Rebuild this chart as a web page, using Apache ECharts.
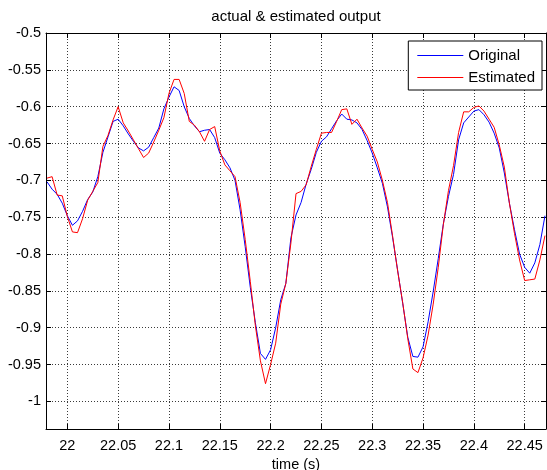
<!DOCTYPE html>
<html>
<head>
<meta charset="utf-8">
<script src="https://cdn.jsdelivr.net/npm/echarts@6/dist/echarts.min.js"></script>
<style>
html,body{margin:0;padding:0;background:#fff;}
#chart{width:547px;height:470px;}
</style>
</head>
<body>
<div id="chart"></div>
<script>
var titleText = 'actual & estimated output';
var xName = 'time (s)';
var seriesNames = ['Original', 'Estimated'];

var time = [
  21.98, 21.985, 21.99, 21.995, 22.0, 22.005, 22.01, 22.015, 22.02, 22.025,
  22.03, 22.035, 22.04, 22.045, 22.05, 22.055, 22.06, 22.065, 22.07, 22.075,
  22.08, 22.085, 22.09, 22.095, 22.1, 22.105, 22.11, 22.115, 22.12, 22.125,
  22.13, 22.135, 22.14, 22.145, 22.15, 22.155, 22.16, 22.165, 22.17, 22.175,
  22.18, 22.185, 22.19, 22.195, 22.2, 22.205, 22.21, 22.215, 22.22, 22.225,
  22.23, 22.235, 22.24, 22.245, 22.25, 22.255, 22.26, 22.265, 22.27, 22.275,
  22.28, 22.285, 22.29, 22.295, 22.3, 22.305, 22.31, 22.315, 22.32, 22.325,
  22.33, 22.335, 22.34, 22.345, 22.35, 22.355, 22.36, 22.365, 22.37, 22.375,
  22.38, 22.385, 22.39, 22.395, 22.4, 22.405, 22.41, 22.415, 22.42, 22.425,
  22.43, 22.435, 22.44, 22.445, 22.45, 22.455, 22.46, 22.465, 22.47
];

var original = [
  -0.702, -0.712, -0.719, -0.731, -0.748, -0.761, -0.755, -0.742, -0.726, -0.716,
  -0.695, -0.662, -0.641, -0.620, -0.617, -0.626, -0.637, -0.647, -0.656, -0.660,
  -0.655, -0.642, -0.629, -0.603, -0.587, -0.573, -0.578, -0.600, -0.616, -0.626,
  -0.634, -0.632, -0.631, -0.642, -0.663, -0.672, -0.683, -0.700, -0.740, -0.790,
  -0.845, -0.893, -0.935, -0.943, -0.930, -0.900, -0.862, -0.840, -0.778, -0.747,
  -0.730, -0.705, -0.685, -0.662, -0.647, -0.641, -0.630, -0.619, -0.610, -0.617,
  -0.618, -0.622, -0.631, -0.646, -0.663, -0.683, -0.704, -0.736, -0.777, -0.822,
  -0.867, -0.913, -0.939, -0.940, -0.926, -0.892, -0.851, -0.806, -0.759, -0.722,
  -0.692, -0.645, -0.622, -0.614, -0.606, -0.604, -0.611, -0.621, -0.636, -0.656,
  -0.690, -0.731, -0.767, -0.800, -0.818, -0.826, -0.812, -0.787, -0.748
];

var estimated = [
  -0.697, -0.695, -0.720, -0.721, -0.749, -0.770, -0.771, -0.752, -0.727, -0.715,
  -0.703, -0.654, -0.639, -0.618, -0.600, -0.622, -0.633, -0.645, -0.657, -0.669,
  -0.663, -0.648, -0.632, -0.615, -0.582, -0.563, -0.563, -0.582, -0.620, -0.625,
  -0.634, -0.647, -0.631, -0.627, -0.660, -0.679, -0.687, -0.695, -0.730, -0.780,
  -0.837, -0.897, -0.945, -0.976, -0.950, -0.921, -0.868, -0.840, -0.785, -0.718,
  -0.715, -0.706, -0.681, -0.658, -0.636, -0.635, -0.635, -0.620, -0.604, -0.603,
  -0.624, -0.617, -0.629, -0.640, -0.658, -0.675, -0.700, -0.730, -0.775, -0.823,
  -0.866, -0.915, -0.956, -0.961, -0.941, -0.910, -0.868, -0.818, -0.760, -0.714,
  -0.680, -0.635, -0.607, -0.607, -0.601, -0.599, -0.606, -0.617, -0.628, -0.652,
  -0.682, -0.731, -0.772, -0.808, -0.836, -0.835, -0.834, -0.808, -0.775
];

var xRange = [21.979, 22.471];
var yRange = [-1.0375, -0.5];
var tickStep = 0.05;

function pairs(xs, ys) {
  var out = [];
  for (var i = 0; i < xs.length; i++) out.push([xs[i], ys[i]]);
  return out;
}

var FONT = 'Liberation Sans, Arial, Helvetica, sans-serif';
var gridLine = { show: true, lineStyle: { color: '#3a3a3a', width: 1, type: [1, 2] } };

var chart = echarts.init(document.getElementById('chart'), null, { renderer: 'canvas' });
chart.setOption({
  animation: false,
  backgroundColor: '#ffffff',
  textStyle: { fontFamily: FONT },
  title: {
    text: titleText,
    left: 296,
    textAlign: 'center',
    top: 9,
    padding: 0,
    textStyle: { fontSize: 15, fontWeight: 'normal', color: '#000', fontFamily: FONT }
  },
  legend: {
    data: seriesNames,
    orient: 'vertical',
    right: 5,
    top: 41,
    padding: [7, 7, 5, 9],
    itemWidth: 46,
    itemHeight: 14,
    itemGap: 7,
    icon: 'path://M0,0 L46,0 L46,1 L0,1 Z',
    symbolKeepAspect: true,
    borderColor: '#000',
    borderWidth: 1,
    borderRadius: 0,
    backgroundColor: '#fff',
    textStyle: { fontSize: 15, color: '#000', fontFamily: FONT }
  },
  grid: { left: 46, right: 1, top: 33, bottom: 41, show: false, containLabel: false, outerBoundsMode: 'none' },
  xAxis: [{
    type: 'value',
    min: xRange[0],
    max: xRange[1],
    splitNumber: 10,
    minInterval: tickStep,
    maxInterval: tickStep,
    name: xName,
    nameLocation: 'middle',
    nameGap: 25,
    nameTextStyle: { fontSize: 14.5, color: '#000', fontFamily: FONT },
    axisLine: { show: true, onZero: false, lineStyle: { color: '#000', width: 1 } },
    axisTick: { show: true, inside: true, length: 5, lineStyle: { color: '#000' } },
    axisLabel: { show: true, showMinLabel: false, showMaxLabel: false, margin: 9, fontSize: 14.5, color: '#000', fontFamily: FONT },
    splitLine: gridLine
  }, {
    type: 'value',
    position: 'top',
    min: xRange[0],
    max: xRange[1],
    splitNumber: 10,
    minInterval: tickStep,
    maxInterval: tickStep,
    axisLine: { show: true, onZero: false, lineStyle: { color: '#000', width: 1 } },
    axisTick: { show: true, inside: true, length: 5, lineStyle: { color: '#000' } },
    axisLabel: { show: false },
    splitLine: { show: false }
  }],
  yAxis: [{
    type: 'value',
    min: yRange[0],
    max: yRange[1],
    splitNumber: 11,
    minInterval: tickStep,
    maxInterval: tickStep,
    axisLine: { show: true, onZero: false, lineStyle: { color: '#000', width: 1 } },
    axisTick: { show: true, inside: true, length: 5, lineStyle: { color: '#000' } },
    axisLabel: { show: true, showMinLabel: false, margin: 5, fontSize: 14.5, color: '#000', fontFamily: FONT },
    splitLine: gridLine
  }, {
    type: 'value',
    position: 'right',
    min: yRange[0],
    max: yRange[1],
    splitNumber: 11,
    minInterval: tickStep,
    maxInterval: tickStep,
    axisLine: { show: true, onZero: false, lineStyle: { color: '#000', width: 1 } },
    axisTick: { show: true, inside: true, length: 5, lineStyle: { color: '#000' } },
    axisLabel: { show: false },
    splitLine: { show: false }
  }],
  series: [{
    name: seriesNames[0],
    type: 'line',
    xAxisIndex: 0,
    yAxisIndex: 0,
    symbol: 'none',
    lineStyle: { color: '#0000ff', width: 1 },
    itemStyle: { color: '#0000ff' },
    data: pairs(time, original)
  }, {
    name: seriesNames[1],
    type: 'line',
    xAxisIndex: 0,
    yAxisIndex: 0,
    symbol: 'none',
    lineStyle: { color: '#ff0000', width: 1 },
    itemStyle: { color: '#ff0000' },
    data: pairs(time, estimated)
  }]
});
</script>
</body>
</html>
